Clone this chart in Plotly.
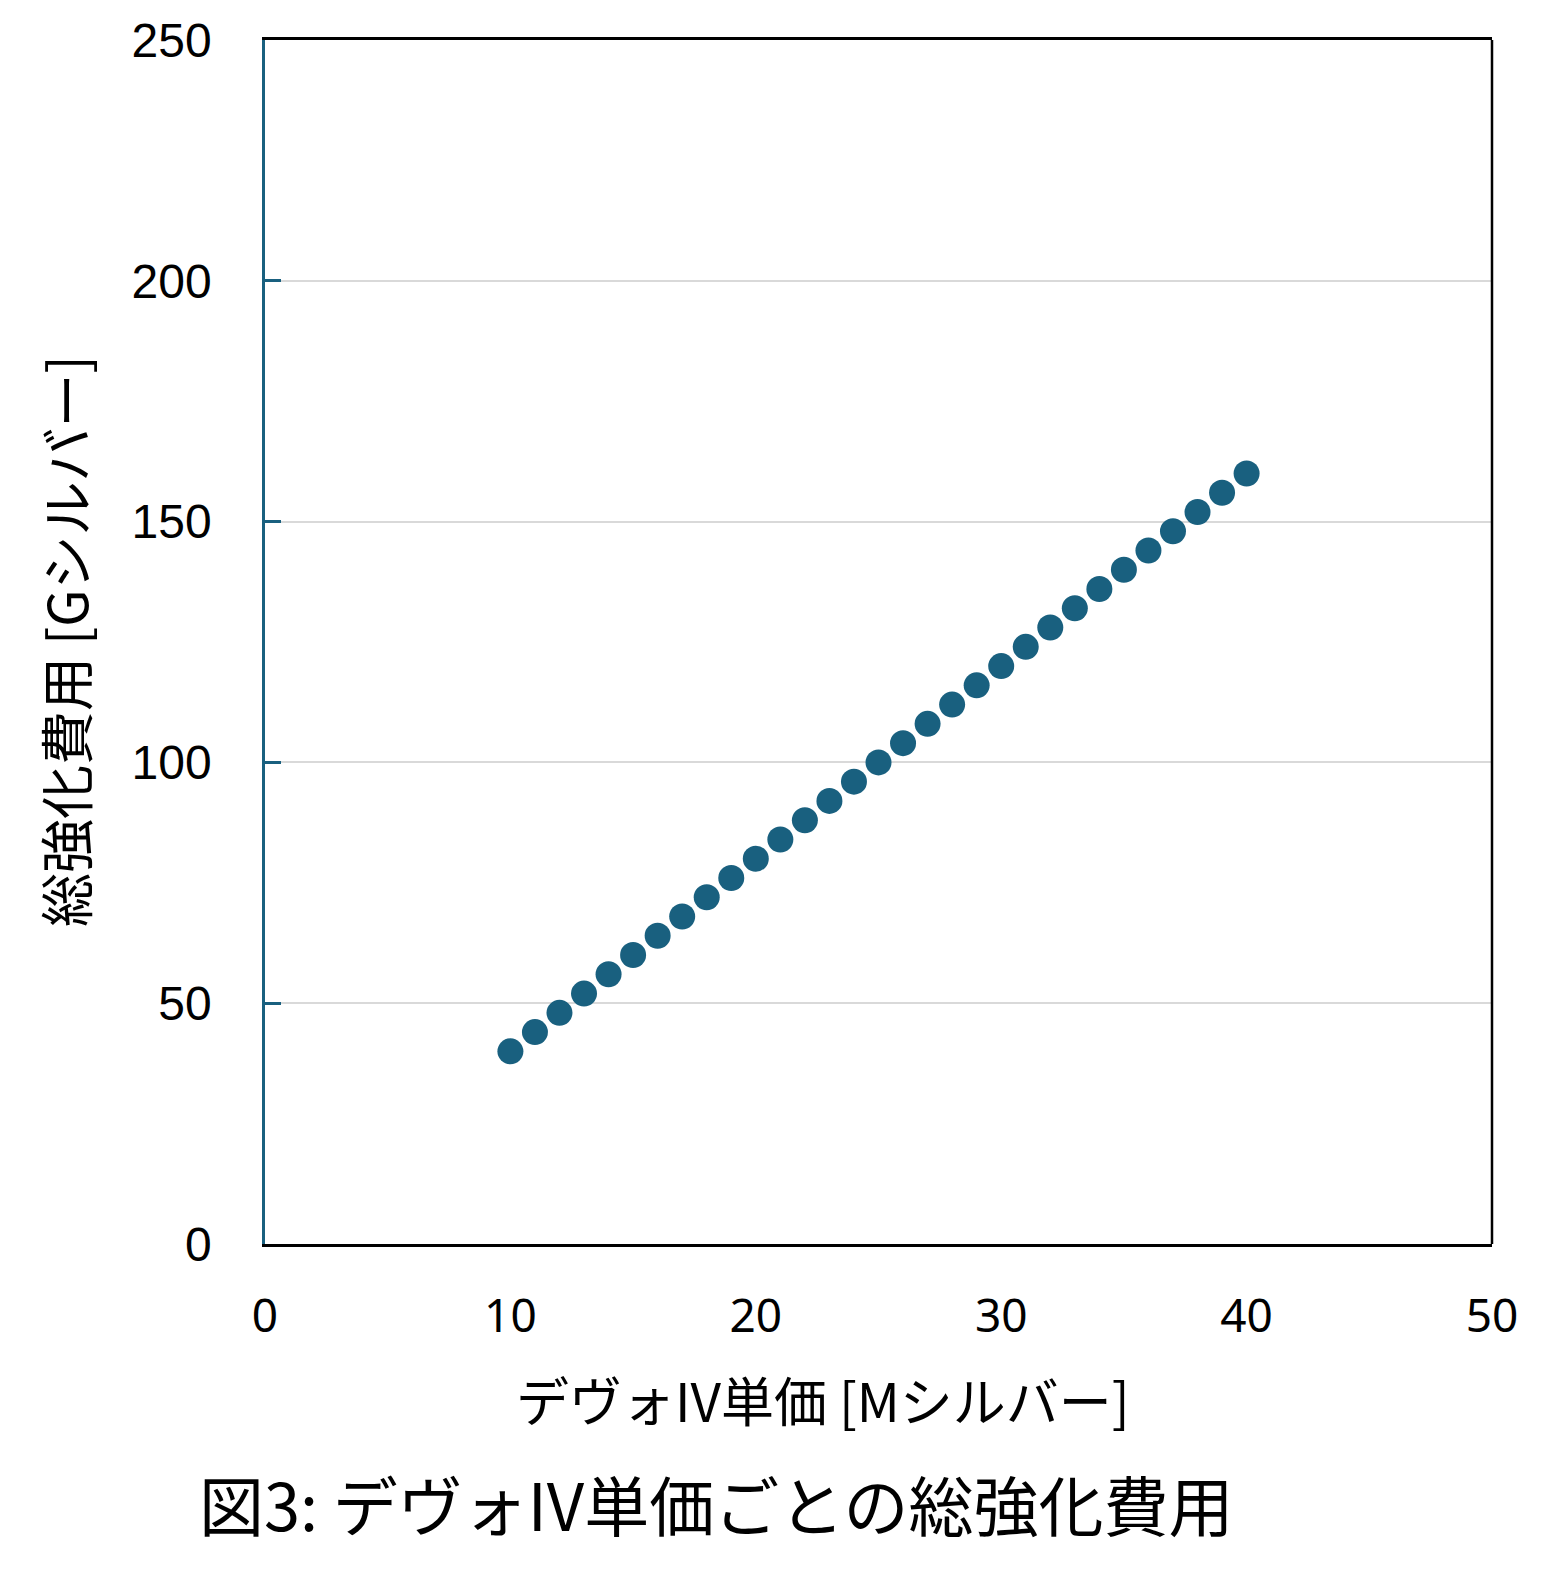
import plotly.graph_objects as go

# Data
unit_price_m = [10, 11, 12, 13, 14, 15, 16, 17, 18, 19, 20, 21, 22, 23, 24, 25,
                26, 27, 28, 29, 30, 31, 32, 33, 34, 35, 36, 37, 38, 39, 40]
total_cost_g = [40, 44, 48, 52, 56, 60, 64, 68, 72, 76, 80, 84, 88, 92, 96, 100,
                104, 108, 112, 116, 120, 124, 128, 132, 136, 140, 144, 148, 152, 156, 160]
x_ticks = [0, 10, 20, 30, 40, 50]
y_ticks = [0, 50, 100, 150, 200, 250]

W, H = 1548, 1582
L, R, T, B = 257, 1484, 32, 1236  # figure coordinates

BLUE = "#19607f"
JP = "Noto Sans CJK JP"

fig = go.Figure()
fig.add_trace(go.Scatter(
    x=unit_price_m, y=total_cost_g, mode="markers",
    marker=dict(color=BLUE, size=26, line=dict(width=0)),
    showlegend=False, cliponaxis=False,
))

def px_x(p):
    return (p - L) / (R - L)

def px_y(p):
    return (B - p) / (B - T)

fig.update_layout(
    width=W, height=H,
    margin=dict(l=L, r=W - R, t=T, b=H - B, pad=0, autoexpand=False),
    paper_bgcolor="white", plot_bgcolor="white",
    xaxis=dict(
        range=[0, 50], tickvals=x_ticks, showgrid=False, zeroline=False,
        automargin=False,
        showline=True, linecolor="black", linewidth=2.5, mirror=True,
        ticks="", ticklabelstandoff=30, ticklabeloverflow="allow",
        tickfont=dict(family="Noto Sans", size=46, color="black"),
    ),
    yaxis=dict(
        range=[0, 250], tickvals=y_ticks, showgrid=True, gridcolor="#d9d9d9",
        automargin=False,
        gridwidth=2, zeroline=False, showline=True, linecolor=BLUE, linewidth=2.5,
        ticks="inside", ticklen=16, tickcolor=BLUE, tickwidth=2.5,
        ticklabelstandoff=41, ticklabeloverflow="allow",
        tickfont=dict(family="Liberation Sans", size=48, color="black"),
    ),
    shapes=[dict(type="line", xref="paper", yref="paper", x0=1, x1=1, y0=0, y1=1,
                 line=dict(color="black", width=2.5))],
    annotations=[
        dict(text="総強化費用 [Gシルバー]", xref="paper", yref="paper",
             x=px_x(56), y=px_y(633), textangle=-90, showarrow=False,
             xanchor="center", yanchor="middle",
             font=dict(family=JP, size=54, color="black")),
        dict(text="デヴォIV単価 [Mシルバー]", xref="paper", yref="paper",
             x=px_x(815), y=px_y(1391), showarrow=False,
             xanchor="center", yanchor="middle",
             font=dict(family=JP, size=53, color="black")),
        dict(text="図3: デヴォIV単価ごとの総強化費用", xref="paper", yref="paper",
             x=px_x(708), y=px_y(1495), showarrow=False,
             xanchor="center", yanchor="middle",
             font=dict(family=JP, size=65, color="black")),
    ],
)

fig.write_html("out.html")
